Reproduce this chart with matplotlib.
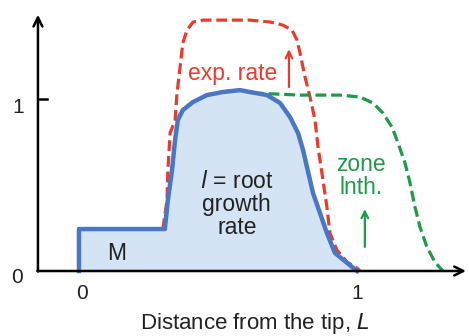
import matplotlib.pyplot as plt

plt.rcParams['font.family'] = ['Liberation Sans', 'DejaVu Sans']

# root growth rate l (solid blue, filled)
blue_x = [0, 0, 0.310, 0.321, 0.336, 0.347, 0.357, 0.375, 0.412, 0.462, 0.520,
          0.581, 0.617, 0.679, 0.726, 0.762, 0.791, 0.809, 0.823, 0.845, 0.870,
          0.895, 0.924, 0.968, 1.004]
blue_y = [0, 0.244, 0.244, 0.413, 0.587, 0.762, 0.878, 0.936, 0.983, 1.023, 1.041,
          1.052, 1.041, 1.023, 0.977, 0.895, 0.802, 0.703, 0.605, 0.453, 0.337,
          0.221, 0.105, 0.047, 0]

# exp. rate (red dashed)
red_x = [0.303, 0.318, 0.321, 0.329, 0.347, 0.354, 0.365, 0.375, 0.390, 0.412,
         0.448, 0.617, 0.690, 0.736, 0.769, 0.787, 0.798, 0.816, 0.834, 0.852,
         0.863, 0.877, 0.895, 0.906, 0.931, 0.968, 1.004, 1.014]
red_y = [0.244, 0.413, 0.587, 0.802, 0.878, 1.035, 1.186, 1.326, 1.401, 1.448,
         1.459, 1.459, 1.448, 1.430, 1.401, 1.343, 1.267, 1.128, 1.012, 0.878,
         0.721, 0.570, 0.372, 0.221, 0.122, 0.052, 0.017, 0]

# zone length (green dashed)
green_x = [0.628, 0.798, 0.942, 1.014, 1.061, 1.097, 1.130, 1.152, 1.177, 1.195,
           1.213, 1.231, 1.256, 1.285, 1.314]
green_y = [1.035, 1.023, 1.023, 1.012, 0.977, 0.919, 0.837, 0.744, 0.628, 0.512,
           0.372, 0.256, 0.140, 0.052, 0]

blue = '#4a76c6'
red = '#e53c2e'
green = '#1e9a48'
dark = '#222222'

fig = plt.figure(figsize=(4.69, 3.36), dpi=100)
ax = fig.add_axes([0, 0, 1, 1])
ax.set_xlim(-0.285, 1.408)
ax.set_ylim(-0.378, 1.576)
ax.axis('off')

ax.fill_between(blue_x, blue_y, 0, color='#d4e4f4', lw=0)
ax.plot(red_x, red_y, color=red, lw=2.3, dashes=(3.4, 1.5), zorder=3)
ax.plot(green_x, green_y, color=green, lw=2.3, dashes=(3.4, 1.5), zorder=3)
ax.plot(blue_x, blue_y, color=blue, lw=3.2, solid_joinstyle='round', zorder=4)

# axes with arrow heads
ax.annotate('', xy=(-0.148, 1.49), xytext=(-0.148, -0.003),
            arrowprops=dict(arrowstyle='->', lw=1.8, color='black',
                            mutation_scale=16, shrinkA=0, shrinkB=0))
ax.annotate('', xy=(1.397, 0), xytext=(-0.15, 0),
            arrowprops=dict(arrowstyle='->', lw=1.8, color='black',
                            mutation_scale=16, shrinkA=0, shrinkB=0), zorder=5)
ax.plot([-0.148, -0.116], [1, 1], color='black', lw=1.8)

ax.text(-0.22, 0.953, '1', fontsize=15, color=dark, ha='center', va='center')
ax.text(-0.224, -0.035, '0', fontsize=15, color=dark, ha='center', va='center')
ax.text(0.01, -0.128, '0', fontsize=15, color=dark, ha='center', va='center')
ax.text(1.005, -0.128, '1', fontsize=15, color=dark, ha='center', va='center')
ax.text(0.635, -0.303, 'Distance from the tip, $\\it{L}$', fontsize=16,
        color=dark, ha='center', va='center')

ax.text(0.135, 0.099, 'M', fontsize=16.5, color=dark, ha='center', va='center')
ax.text(0.57, 0.384, '$\\it{l}$ = root\ngrowth\nrate', fontsize=16.5, color=dark,
        ha='center', va='center', linespacing=1.0)
ax.text(0.555, 1.151, 'exp. rate', fontsize=16.5, color=red, ha='center',
        va='center')
ax.annotate('', xy=(0.758, 1.29), xytext=(0.758, 1.07),
            arrowprops=dict(arrowstyle='->', lw=1.6, color=red,
                            mutation_scale=12, shrinkA=0, shrinkB=0))
ax.text(1.018, 0.55, 'zone\nlnth.', fontsize=16.5, color=green, ha='center',
        va='center', linespacing=1.0)
ax.annotate('', xy=(1.032, 0.36), xytext=(1.032, 0.14),
            arrowprops=dict(arrowstyle='->', lw=1.6, color=green,
                            mutation_scale=12, shrinkA=0, shrinkB=0))

fig.savefig('out.png', dpi=100)
